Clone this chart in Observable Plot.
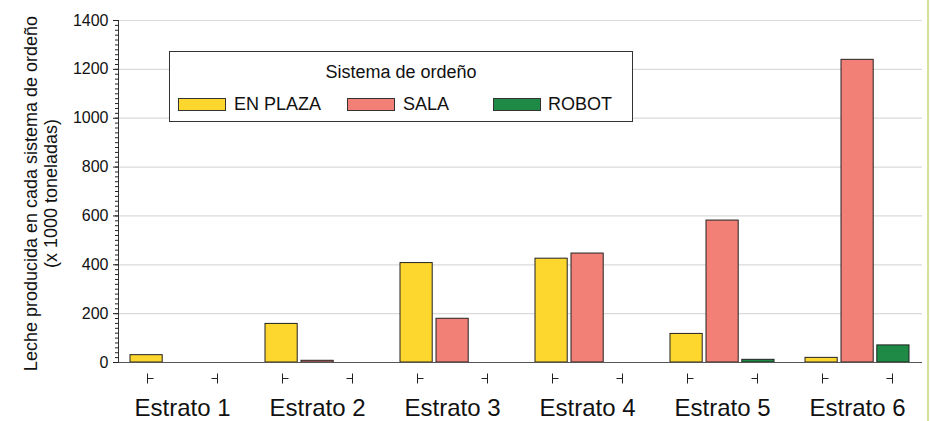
<!DOCTYPE html>
<html>
<head>
<meta charset="utf-8">
<script src="https://cdn.jsdelivr.net/npm/d3@7"></script>
<script src="https://cdn.jsdelivr.net/npm/@observablehq/plot@0.6"></script>
<style>
  html, body { margin: 0; padding: 0; background: #fff; }
  #wrap { position: relative; width: 930px; height: 421px; font-family: "Liberation Sans", Arial, sans-serif; }
  #rightbar { position: absolute; left: 927px; top: 0; width: 2px; height: 421px; background: #d5e09b; }
  #legend { position: absolute; left: 169px; top: 51px; width: 462px; height: 69px; border: 1px solid #333; background: #fff; }
  #legend .title { position: absolute; left: 0; width: 100%; top: 10px; text-align: center; font-size: 18px; color: #111; }
  #legend .sw { position: absolute; top: 46px; width: 46px; height: 11px; border: 1px solid #333; }
  #legend .lab { position: absolute; top: 42px; font-size: 18px; color: #111; }
</style>
</head>
<body>
<div id="wrap">
  <div id="chart"></div>
  <div id="legend"></div>
  <div id="rightbar"></div>
</div>
<script>
// ---- data ----
const estratos = ["Estrato 1", "Estrato 2", "Estrato 3", "Estrato 4", "Estrato 5", "Estrato 6"];
const sistemas = ["EN PLAZA", "SALA", "ROBOT"];
const enPlaza = [30, 158, 407, 425, 117, 19];
const sala = [0, 7, 179, 446, 581, 1239];
const robot = [0, 0, 0, 0, 11, 70];
const yTicks = [0, 200, 400, 600, 800, 1000, 1200, 1400];
const yLabel = "Leche producida en cada sistema de ordeño\n(x 1000 toneladas)";
const legendTitle = "Sistema de ordeño";
const colors = ["#fdd62e", "#f28077", "#1f8a45"];

const series = [enPlaza, sala, robot];
const rows = [];
estratos.forEach((e, i) => sistemas.forEach((s, j) => rows.push({estrato: e, sistema: s, value: series[j][i]})));
const yMinor = d3.range(0, 1401, 20);

// bar placement within each group band (styling)
const insets = {
  "EN PLAZA": {insetLeft: 0, insetRight: 71.8},
  "SALA": {insetLeft: 36, insetRight: 35.8},
  "ROBOT": {insetLeft: 71.8, insetRight: 0}
};

const barMarks = sistemas.map((s, j) =>
  Plot.barY(rows.filter(d => d.sistema === s && d.value > 0), {
    x: "estrato", y: "value", fill: colors[j], stroke: "#222", strokeWidth: 1,
    ...insets[s]
  })
);

// small bracket-like tick symbols under each group
const symLeft = {draw(ctx) { ctx.moveTo(-2, -5); ctx.lineTo(-2, 5); ctx.moveTo(-2, 0); ctx.lineTo(4, 0); }};
const symRight = {draw(ctx) { ctx.moveTo(2, -5); ctx.lineTo(2, 5); ctx.moveTo(2, 0); ctx.lineTo(-4, 0); }};

const chart = Plot.plot({
  width: 930,
  height: 421,
  marginTop: 20,
  marginBottom: 59,
  marginLeft: 118,
  marginRight: 8,
  style: {fontFamily: "'Liberation Sans', Arial, sans-serif", color: "#000", background: "transparent", overflow: "visible"},
  x: {domain: estratos, paddingInner: 0.228, paddingOuter: 0.0735},
  y: {domain: [0, 1400]},
  marks: [
    Plot.gridY(yTicks, {stroke: "#dadada", strokeOpacity: 1, strokeWidth: 1.2}),
    ...barMarks,
    Plot.ruleY([0], {stroke: "#555", strokeWidth: 1.2}),
    Plot.axisY(yMinor, {tickSize: 3, text: null, label: null, stroke: "#222"}),
    Plot.axisY(yTicks, {tickSize: 5, tickPadding: 5, fontSize: 16, label: null, stroke: "#222", fill: "#111", tickFormat: d => String(d)}),
    Plot.frame({anchor: "left", stroke: "#333"}),
    Plot.axisX(estratos, {tickSize: 0, tickPadding: 36, fontSize: 24, label: null, fill: "#111"}),
    Plot.dot(estratos, {x: d => d, y: () => 0, symbol: symLeft, dx: -33, dy: 16, stroke: "#222", strokeWidth: 1, fill: "none"}),
    Plot.dot(estratos, {x: d => d, y: () => 0, symbol: symRight, dx: 33, dy: 16, stroke: "#222", strokeWidth: 1, fill: "none"}),
    Plot.text([yLabel], {frameAnchor: "left", textAnchor: "middle", text: d => d, rotate: -90, dx: -78, dy: 2, fontSize: 18, lineHeight: 1.15, fill: "#111"})
  ]
});
document.getElementById("chart").appendChild(chart);

// legend
const legend = document.getElementById("legend");
const t = document.createElement("div");
t.className = "title"; t.textContent = legendTitle; legend.appendChild(t);
const swLeft = [8, 177, 323];
const labLeft = [64, 233, 378];
sistemas.forEach((s, j) => {
  const sw = document.createElement("div");
  sw.className = "sw"; sw.style.left = swLeft[j] + "px"; sw.style.background = colors[j];
  legend.appendChild(sw);
  const lb = document.createElement("div");
  lb.className = "lab"; lb.style.left = labLeft[j] + "px"; lb.textContent = s;
  legend.appendChild(lb);
});
</script>
</body>
</html>
